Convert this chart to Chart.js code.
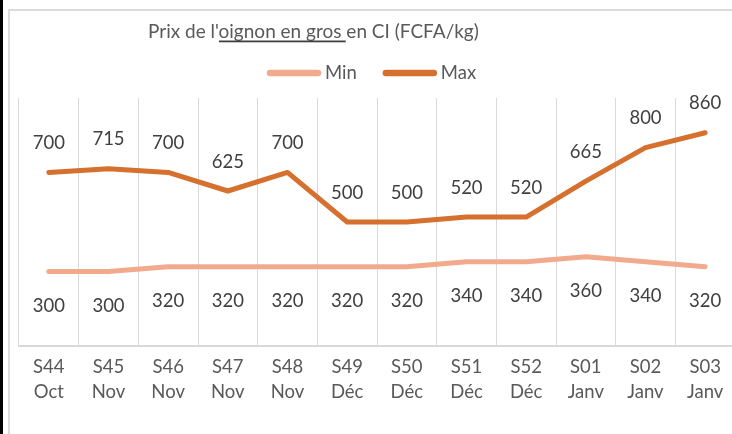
<!DOCTYPE html>
<html>
<head>
<meta charset="utf-8">
<script src="https://cdn.jsdelivr.net/npm/chart.js@4/dist/chart.umd.min.js"></script>
<style>
    html, body { margin: 0; padding: 0; background: #fff; overflow: hidden; width: 732px; height: 434px; }
    #strip { position: absolute; left: 0; top: 0; width: 3px; height: 434px; background: #000; }
    #frame { position: absolute; left: 8px; top: 9px; width: 800px; height: 500px; border: 2px solid #dcdcdc; }
    #chart { position: absolute; left: 0; top: 0; }
</style>
</head>
<body>
<div id="strip"></div>
<div id="frame"></div>
<canvas id="chart" width="740" height="434"></canvas>
<script>
// Weekly wholesale onion prices (FCFA/kg)
const weeks = ['S44', 'S45', 'S46', 'S47', 'S48', 'S49', 'S50', 'S51', 'S52', 'S01', 'S02', 'S03'];
const months = ['Oct', 'Nov', 'Nov', 'Nov', 'Nov', 'Déc', 'Déc', 'Déc', 'Déc', 'Janv', 'Janv', 'Janv'];
const minValues = [300, 300, 320, 320, 320, 320, 320, 340, 340, 360, 340, 320];
const maxValues = [700, 715, 700, 625, 700, 500, 500, 520, 520, 665, 800, 860];

const titleText = "Prix de l'oignon en gros en CI (FCFA/kg)";
const minColor = '#f2aa8c';
const maxColor = '#d5702e';
const textColor = '#404040';
const fontFamily = 'Lato, "Open Sans", sans-serif';

// Value labels above (Max) and below (Min) each point
const valueLabels = {
    id: 'valueLabels',
    afterDatasetsDraw(chart) {
        const ctx = chart.ctx;
        ctx.save();
        ctx.font = '18.5px ' + fontFamily;
        ctx.fillStyle = textColor;
        ctx.textAlign = 'center';
        ctx.textBaseline = 'alphabetic';
        chart.data.datasets.forEach((ds, i) => {
            const meta = chart.getDatasetMeta(i);
            meta.data.forEach((pt, j) => {
                const y = ds.label === 'Max' ? pt.y - 23.5 : pt.y + 40;
                ctx.fillText(String(ds.data[j]), pt.x, y);
            });
        });
        ctx.restore();
    }
};

// Title (partly underlined) and legend, placed like the original
const headerDraw = {
    id: 'headerDraw',
    afterDraw(chart) {
        const ctx = chart.ctx;
        ctx.save();
        ctx.font = '19px ' + fontFamily;
        ctx.textBaseline = 'alphabetic';

        // title
        const x0 = 148;
        ctx.fillStyle = '#595959';
        ctx.fillText(titleText, x0, 38);
        const before = ctx.measureText("Prix de l'").width;
        const under = ctx.measureText('oignon en gros ').width;
        ctx.fillStyle = '#404040';
        ctx.fillRect(x0 + before, 40.5, under - 1, 1.8);

        // legend
        ctx.font = '18.5px ' + fontFamily;
        ctx.lineWidth = 6.5;
        ctx.lineCap = 'round';
        let x = 270;
        chart.data.datasets.forEach(ds => {
            ctx.strokeStyle = ds.borderColor;
            ctx.beginPath();
            ctx.moveTo(x, 73);
            ctx.lineTo(x + 48, 73);
            ctx.stroke();
            x += 55;
            ctx.fillStyle = '#595959';
            ctx.fillText(ds.label, x, 78.5);
            x += ctx.measureText(ds.label).width + 29;
        });
        ctx.restore();
    }
};

new Chart(document.getElementById('chart'), {
    type: 'line',
    data: {
        labels: weeks.map((w, i) => [w, months[i]]),
        datasets: [{
            label: 'Min',
            data: minValues,
            borderColor: minColor,
            backgroundColor: minColor,
            borderWidth: 5,
            pointRadius: 0,
            tension: 0,
            borderCapStyle: 'round',
            borderJoinStyle: 'round'
        }, {
            label: 'Max',
            data: maxValues,
            borderColor: maxColor,
            backgroundColor: maxColor,
            borderWidth: 5,
            pointRadius: 0,
            tension: 0,
            borderCapStyle: 'round',
            borderJoinStyle: 'round'
        }]
    },
    options: {
        responsive: false,
        animation: false,
        devicePixelRatio: 1,
        layout: {
            padding: { left: 19, right: 5, top: 98, bottom: 0 }
        },
        plugins: {
            legend: { display: false },
            title: { display: false },
            tooltip: { enabled: false }
        },
        scales: {
            y: {
                display: false,
                min: 0,
                max: 1000
            },
            x: {
                offset: true,
                afterFit: function(scale) {
                    scale.height = 88;
                },
                grid: {
                    offset: true,
                    color: '#d9d9d9',
                    lineWidth: 1,
                    drawTicks: false
                },
                border: {
                    color: '#d9d9d9',
                    width: 2
                },
                ticks: {
                    padding: 9,
                    maxRotation: 0,
                    autoSkip: false,
                    color: '#595959',
                    font: { family: fontFamily, size: 18.5, lineHeight: 1.35 }
                }
            }
        }
    },
    plugins: [valueLabels, headerDraw]
});
</script>
</body>
</html>
